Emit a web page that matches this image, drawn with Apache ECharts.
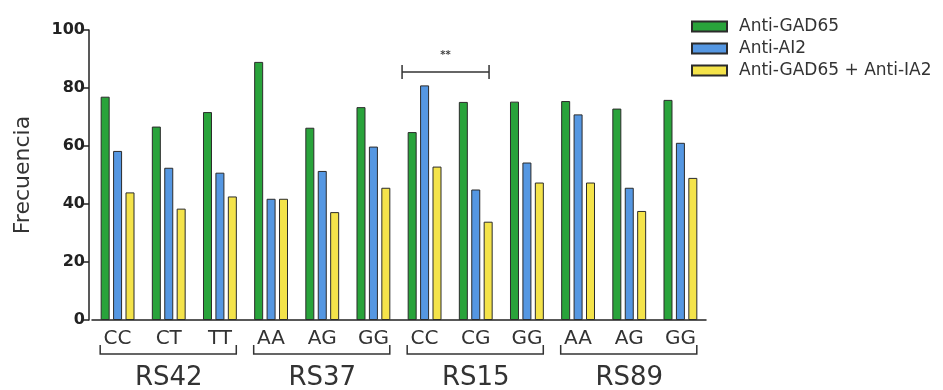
<!DOCTYPE html>
<html>
<head>
<meta charset="utf-8">
<script src="https://cdn.jsdelivr.net/npm/echarts@6/dist/echarts.min.js"></script>
<style>
html,body{margin:0;padding:0;background:#fff;}
#chart{width:943px;height:390px;}
</style>
</head>
<body>
<div id="chart"></div>
<script>
// ---- data ----
var genotypes = ['CC','CT','TT','AA','AG','GG','CC','CG','GG','AA','AG','GG'];
var groups = ['RS42','RS37','RS15','RS89'];
var groupSize = [3,3,3,3];
var antiGAD65 = [77, 66.7, 71.7, 89, 66.3, 73.4, 64.8, 75.2, 75.3, 75.5, 72.9, 75.9];
var antiAI2   = [58.3, 52.5, 50.8, 41.8, 51.4, 59.8, 80.9, 45, 54.3, 70.9, 45.6, 61.1];
var antiBoth  = [44, 38.4, 42.6, 41.8, 37.2, 45.6, 52.9, 33.9, 47.4, 47.4, 37.6, 49];
var seriesNames = ['Anti-GAD65','Anti-AI2','Anti-GAD65 + Anti-IA2'];
var yTicks = [0,20,40,60,80,100];
var sigPair = [6,7];
var sigLevel = 85.5;
var sigText = '**';

var colors = ['#29a33b','#5597e2','#f4e34a'];
var FONT = 'DejaVu Sans';
var cat = genotypes.map(function(g,i){return i;});

var chart = echarts.init(document.getElementById('chart'), null, {renderer:'canvas'});
function mk(name, data, color){
  return {
    name:name, type:'bar', data:data, barWidth:9, barGap:'38%',
    itemStyle:{color:color, borderColor:'#2b2b2b', borderWidth:1},
    emphasis:{disabled:true}, animation:false
  };
}
chart.setOption({
  animation:false,
  backgroundColor:'#fff',
  grid:{left:92, right:237, top:30, bottom:70},
  legend:{
    orient:'vertical', left:686, top:13, itemWidth:35, itemHeight:10, itemGap:5,
    icon:'rect',
    textStyle:{fontFamily:FONT, fontSize:17, color:'#333', padding:[0,0,0,7]},
    data:seriesNames
  },
  xAxis:{
    type:'category', data:cat,
    axisLine:{lineStyle:{color:'#222', width:1.5}},
    axisTick:{alignWithLabel:true, length:6, lineStyle:{color:'#222', width:1.5}},
    axisLabel:{interval:0, margin:9, fontFamily:FONT, fontSize:20, color:'#333',
      formatter:function(v){return genotypes[+v];}}
  },
  yAxis:{
    type:'value', min:0, max:100, interval:20, offset:3,
    name:'Frecuencia', nameLocation:'middle', nameGap:55,
    nameTextStyle:{fontFamily:FONT, fontSize:22, color:'#333'},
    axisLine:{show:true, lineStyle:{color:'#222', width:1.5}},
    axisTick:{show:true, length:6, lineStyle:{color:'#222', width:1.5}},
    axisLabel:{margin:4, fontFamily:FONT, fontSize:16, fontWeight:'bold', color:'#222',
      formatter:function(v){return yTicks.indexOf(v)>=0 ? String(v) : '';}},
    splitLine:{show:false}
  },
  series:[mk(seriesNames[0], antiGAD65, colors[0]), mk(seriesNames[1], antiAI2, colors[1]), mk(seriesNames[2], antiBoth, colors[2])]
});

// annotations computed from axis scales
function px(i, v){ return chart.convertToPixel({gridIndex:0}, [i, v]); }
var band = px(1,0)[0] - px(0,0)[0];
var base = px(0,0)[1];
var g = [];
var start = 0;
groups.forEach(function(name, k){
  var a = start, b = start + groupSize[k] - 1;
  var xl = px(a,0)[0] - 0.34*band, xr = px(b,0)[0] + 0.32*band;
  var yb = base + 34, yt = base + 25;
  g.push({type:'polyline', shape:{points:[[xl,yt],[xl,yb],[xr,yb],[xr,yt]]},
    style:{stroke:'#333', lineWidth:1.5, fill:null}, silent:true});
  var xc = (px(a,0)[0] + px(b,0)[0]) / 2;
  g.push({type:'text', x:xc, y:base + 58, silent:true,
    style:{text:name, font:'26px "DejaVu Sans"', fill:'#333', align:'center', verticalAlign:'middle'}});
  start += groupSize[k];
});
var sy = px(0, sigLevel)[1];
var sxl = px(sigPair[0],0)[0] - 0.44*band, sxr = px(sigPair[1],0)[0] + 0.26*band;
g.push({type:'line', shape:{x1:sxl, y1:sy, x2:sxr, y2:sy}, style:{stroke:'#333', lineWidth:1.5}, silent:true});
g.push({type:'line', shape:{x1:sxl, y1:sy-7, x2:sxl, y2:sy+7}, style:{stroke:'#333', lineWidth:1.5}, silent:true});
g.push({type:'line', shape:{x1:sxr, y1:sy-7, x2:sxr, y2:sy+7}, style:{stroke:'#333', lineWidth:1.5}, silent:true});
g.push({type:'text', x:(sxl+sxr)/2, y:sy-17, silent:true,
  style:{text:sigText, font:'bold 10px "DejaVu Sans"', fill:'#444', align:'center', verticalAlign:'middle'}});
chart.setOption({graphic:g});
</script>
</body>
</html>
